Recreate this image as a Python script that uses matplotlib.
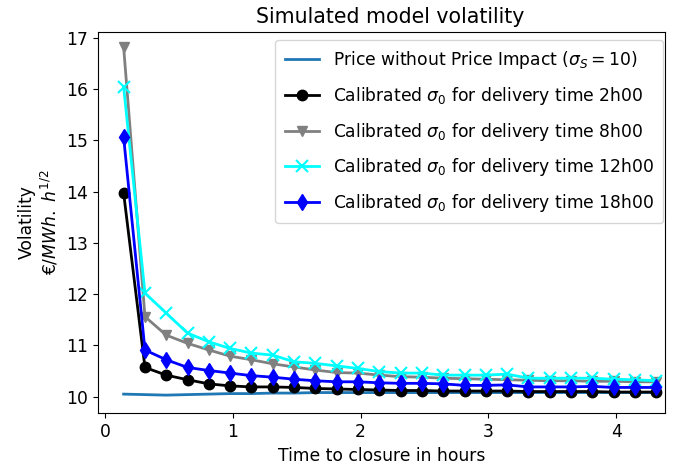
import matplotlib
matplotlib.use('Agg')
import matplotlib.pyplot as plt

# time to closure (hours), one point every 10 minutes
times = [0.146, 0.313, 0.479, 0.646, 0.813, 0.979, 1.146, 1.313, 1.479, 1.646,
         1.813, 1.979, 2.146, 2.313, 2.479, 2.646, 2.813, 2.979, 3.146, 3.313,
         3.479, 3.646, 3.813, 3.979, 4.146, 4.313]

no_impact = [10.05, 10.04, 10.03, 10.04, 10.05, 10.06, 10.06, 10.07, 10.07, 10.08,
             10.08, 10.08, 10.08, 10.08, 10.08, 10.08, 10.08, 10.08, 10.08, 10.08,
             10.08, 10.08, 10.08, 10.08, 10.08, 10.08]

vol_2h = [13.97, 10.57, 10.42, 10.33, 10.25, 10.21, 10.19, 10.19, 10.18, 10.16,
          10.15, 10.14, 10.13, 10.12, 10.12, 10.11, 10.11, 10.11, 10.11, 10.10,
          10.10, 10.10, 10.10, 10.09, 10.09, 10.09]

vol_8h = [16.82, 11.56, 11.20, 11.04, 10.91, 10.79, 10.72, 10.64, 10.58, 10.52,
          10.47, 10.46, 10.42, 10.39, 10.38, 10.36, 10.35, 10.34, 10.33, 10.32,
          10.31, 10.31, 10.30, 10.30, 10.29, 10.29]

vol_12h = [16.04, 12.02, 11.63, 11.24, 11.07, 10.94, 10.85, 10.81, 10.68, 10.65,
           10.60, 10.55, 10.49, 10.46, 10.46, 10.42, 10.42, 10.42, 10.44, 10.36,
           10.36, 10.36, 10.36, 10.34, 10.33, 10.31]

vol_18h = [15.06, 10.91, 10.72, 10.57, 10.51, 10.46, 10.41, 10.38, 10.34, 10.31,
           10.29, 10.29, 10.27, 10.26, 10.26, 10.25, 10.22, 10.22, 10.23, 10.19,
           10.19, 10.19, 10.20, 10.18, 10.18, 10.18]

plt.rcParams['font.size'] = 12.3

fig = plt.figure(figsize=(6.75, 4.69), dpi=100)
ax = fig.add_axes([0.1447, 0.1188, 0.8403, 0.8136])

ax.plot(times, no_impact, color='#1f77b4', lw=2,
        label=r'Price without Price Impact ($\sigma_S = 10$)')
ax.plot(times, vol_2h, color='black', marker='o', ms=7.5, lw=2,
        label=r'Calibrated $\sigma_0$ for delivery time 2h00')
ax.plot(times, vol_8h, color='gray', marker='v', ms=7.5, lw=2,
        label=r'Calibrated $\sigma_0$ for delivery time 8h00')
ax.plot(times, vol_12h, color='cyan', marker='x', ms=8, mew=1.5, lw=2,
        label=r'Calibrated $\sigma_0$ for delivery time 12h00')
ax.plot(times, vol_18h, color='blue', marker='d', ms=8.5, lw=2,
        label=r'Calibrated $\sigma_0$ for delivery time 18h00')

ax.set_xlim(-0.057, 4.38)
ax.set_ylim(9.676, 17.117)
ax.set_xticks([0, 1, 2, 3, 4])
ax.set_yticks([10, 11, 12, 13, 14, 15, 16, 17])

ax.set_title('Simulated model volatility', fontsize=14.8, x=0.515)
ax.set_xlabel('Time to closure in hours')
ax.set_ylabel('Volatility\n€/$MWh.\\ h^{1/2}$')
ax.legend(loc='upper right', fontsize=12.3, labelspacing=0.8, borderpad=0.55,
          bbox_to_anchor=(663 / 675, 1 - 40 / 469), bbox_transform=fig.transFigure,
          borderaxespad=0)

plt.savefig('out.png', dpi=100)
